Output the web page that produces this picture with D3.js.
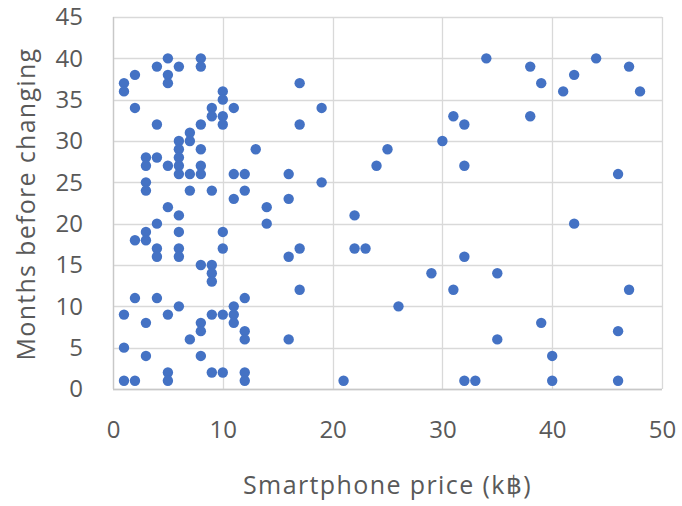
<!DOCTYPE html>
<html>
<head>
<meta charset="utf-8">
<script src="https://cdn.jsdelivr.net/npm/d3@7/dist/d3.min.js"></script>
<style>
  html, body { margin: 0; padding: 0; background: #fff; }
  svg { display: block; }
  text { font-family: "Open Sans", "Noto Sans", sans-serif; fill: #595959; }
</style>
</head>
<body>
<svg id="chart" width="682" height="506"></svg>
<script>
// Smartphone price (thousand baht) and months kept before changing, one entry per respondent
const price = [
  5, 4, 6, 8, 8, 2, 1, 1, 5, 5, 10, 10, 2, 9, 11, 9, 10, 10, 4, 8,
  7, 7, 6, 6, 8, 13, 3, 4, 3, 5, 6, 6, 8, 6, 7, 8, 11, 12, 3, 3,
  7, 9, 12, 11, 5, 14, 6, 14, 4, 3, 2, 3, 6, 10, 4, 4, 6, 6, 10, 8,
  9, 9, 9, 2, 4, 12, 6, 1, 5, 9, 10, 11, 11, 11, 3, 8, 8, 12, 12, 7,
  1, 3, 8, 5, 5, 9, 10, 12, 12, 1, 2,
  17, 19, 17, 16, 19, 16, 17, 16, 17, 16, 22, 22, 23, 21, 24, 25, 26, 29, 30, 31,
  32, 32, 32, 31, 32, 33, 34, 35, 35, 38, 39, 38, 39, 40, 40, 41, 42, 42, 44, 47,
  48, 46, 47, 46, 46
];
const months = [
  40, 39, 39, 40, 39, 38, 37, 36, 38, 37, 36, 35, 34, 34, 34, 33, 33, 32, 32, 32,
  31, 30, 30, 29, 29, 29, 28, 28, 27, 27, 28, 27, 27, 26, 26, 26, 26, 26, 25, 24,
  24, 24, 24, 23, 22, 22, 21, 20, 20, 19, 18, 18, 19, 19, 17, 16, 17, 16, 17, 15,
  15, 14, 13, 11, 11, 11, 10, 9, 9, 9, 9, 10, 9, 8, 8, 8, 7, 7, 6, 6,
  5, 4, 4, 2, 1, 2, 2, 2, 1, 1, 1,
  37, 34, 32, 26, 25, 23, 17, 16, 12, 6, 21, 17, 17, 1, 27, 29, 10, 14, 30, 33,
  32, 27, 16, 12, 1, 1, 40, 14, 6, 39, 37, 33, 8, 4, 1, 36, 38, 20, 40, 39,
  36, 26, 12, 7, 1
];
const xTicks = [0, 10, 20, 30, 40, 50];
const yTicks = [0, 5, 10, 15, 20, 25, 30, 35, 40, 45];
const xTitle = "Smartphone price (k฿)";
const yTitle = "Months before changing";

const svg = d3.select("#chart");
const margin = { top: 17, right: 20, bottom: 117, left: 113 };
const width = 682 - margin.left - margin.right;
const height = 506 - margin.top - margin.bottom;

const x = d3.scaleLinear().domain([0, 50]).range([0, width]);
const y = d3.scaleLinear().domain([0, 45]).range([height, 0]);

const g = svg.append("g").attr("transform", `translate(${margin.left},${margin.top})`);

// gridlines
g.append("g")
  .selectAll("line")
  .data(yTicks)
  .join("line")
  .attr("x1", 0).attr("x2", width)
  .attr("y1", d => Math.round(y(d)) + 0.5).attr("y2", d => Math.round(y(d)) + 0.5)
  .attr("stroke", "#d9d9d9").attr("stroke-width", 1.3);
g.append("g")
  .selectAll("line")
  .data(xTicks)
  .join("line")
  .attr("y1", 0).attr("y2", height)
  .attr("x1", d => Math.round(x(d)) + 0.5).attr("x2", d => Math.round(x(d)) + 0.5)
  .attr("stroke", "#d9d9d9").attr("stroke-width", 1.3);

// axis lines
g.append("line").attr("x1", 0.5).attr("x2", 0.5).attr("y1", 0).attr("y2", height)
  .attr("stroke", "#c8c8c8").attr("stroke-width", 1.3);
g.append("line").attr("x1", 0).attr("x2", width).attr("y1", height + 0.5).attr("y2", height + 0.5)
  .attr("stroke", "#c8c8c8").attr("stroke-width", 1.3);

// axes (labels only)
const xAxis = g.append("g")
  .attr("transform", `translate(0,${height})`)
  .call(d3.axisBottom(x).tickValues(xTicks).tickSize(0).tickPadding(32).tickFormat(d3.format("d")));
const yAxis = g.append("g")
  .call(d3.axisLeft(y).tickValues(yTicks).tickSize(0).tickPadding(30).tickFormat(d3.format("d")));
[xAxis, yAxis].forEach(a => {
  a.select(".domain").remove();
  a.selectAll("text").attr("font-size", 24).attr("fill", "#595959")
    .attr("font-family", "'Open Sans', sans-serif");
});

// points
g.append("g")
  .selectAll("circle")
  .data(price.map((p, i) => [p, months[i]]))
  .join("circle")
  .attr("cx", d => x(d[0]))
  .attr("cy", d => y(d[1]))
  .attr("r", 5.2)
  .attr("fill", "#4472c4");

// axis titles
svg.append("text")
  .attr("x", margin.left + width / 2)
  .attr("y", 494)
  .attr("text-anchor", "middle")
  .attr("font-size", 25)
  .attr("letter-spacing", 1.4)
  .text(xTitle);
svg.append("text")
  .attr("transform", `translate(35,${margin.top + height / 2 + 1}) rotate(-90)`)
  .attr("text-anchor", "middle")
  .attr("font-size", 25)
  .attr("letter-spacing", 1.3)
  .text(yTitle);
</script>
</body>
</html>
